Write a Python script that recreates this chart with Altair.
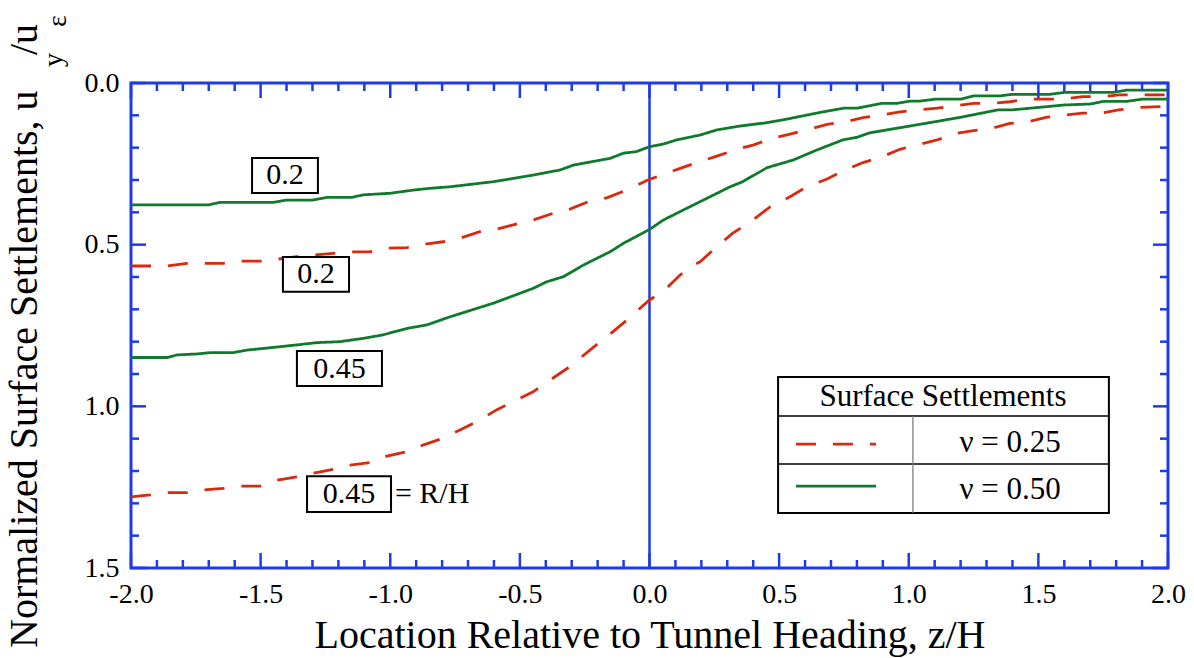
import altair as alt
import pandas as pd

RED = "#d9290f"
GREEN = "#107a2c"
BLUE = "#1f3be6"
FONT = "Liberation Serif"
W, H = 1037, 485

# ---- series (z/H , normalized settlement) ----
g02_x = [-2.0, -1.70, -1.657, -1.45, -1.40, -1.30, -1.245, -1.15, -1.105, -1.0, -0.91, -0.85, -0.77, -0.60,
         -0.45, -0.345, -0.294, -0.152, -0.10, -0.05, 0.0, 0.053, 0.105, 0.195, 0.26, 0.35, 0.45, 0.515,
         0.658, 0.748, 0.80, 0.896, 0.954, 1.005, 1.043, 1.10, 1.20, 1.25, 1.35, 1.40, 1.545, 1.60, 1.79,
         1.84, 2.0]
g02_y = [0.377, 0.377, 0.369, 0.369, 0.362, 0.362, 0.354, 0.354, 0.346, 0.341, 0.331, 0.326, 0.321, 0.305,
         0.285, 0.269, 0.254, 0.233, 0.217, 0.212, 0.197, 0.189, 0.176, 0.161, 0.145, 0.133, 0.123, 0.114,
         0.091, 0.078, 0.078, 0.063, 0.063, 0.056, 0.056, 0.05, 0.05, 0.04, 0.04, 0.035, 0.035, 0.029, 0.029,
         0.022, 0.022]

r02_x = [-2.0, -1.86, -1.784, -1.645, -1.58, -1.50, -1.437, -1.36, -1.30, -1.22, -1.155, -1.078, -1.013,
         -0.935, -0.874, -0.797, -0.731, -0.654, -0.59, -0.511, -0.449, -0.372, -0.307, -0.23, -0.165,
         -0.087, 0.0, 0.118, 0.195, 0.26, 0.337, 0.399, 0.476, 0.542, 0.607, 0.685, 0.754, 0.824, 0.897,
         0.966, 1.037, 1.11, 1.18, 1.25, 1.32, 1.39, 1.46, 1.60, 1.67, 1.745, 1.81, 2.0]
r02_y = [0.566, 0.566, 0.558, 0.558, 0.551, 0.551, 0.545, 0.537, 0.532, 0.527, 0.522, 0.522, 0.511,
         0.509, 0.499, 0.491, 0.48, 0.46, 0.452, 0.436, 0.424, 0.403, 0.39, 0.365, 0.355,
         0.331, 0.298, 0.264, 0.243, 0.226, 0.205, 0.192, 0.171, 0.158, 0.145, 0.128, 0.12, 0.107, 0.099,
         0.089, 0.083, 0.078, 0.07, 0.063, 0.063, 0.058, 0.05, 0.05, 0.042, 0.042, 0.037, 0.037]

g045_x = [-2.0, -1.86, -1.823, -1.745, -1.695, -1.607, -1.553, -1.49, -1.36, -1.283, -1.194, -1.105, -1.028,
          -0.935, -0.858, -0.769, -0.602, -0.448, -0.397, -0.332, -0.255, -0.152, -0.101, 0.0, 0.053, 0.13,
          0.208, 0.311, 0.36, 0.453, 0.555, 0.646, 0.746, 0.80, 0.85, 1.005, 1.10, 1.20, 1.345, 1.40, 1.495,
          1.60, 1.70, 1.75, 1.84, 1.90, 2.0]
g045_y = [0.849, 0.849, 0.841, 0.838, 0.834, 0.834, 0.826, 0.821, 0.81, 0.803, 0.80, 0.79, 0.779,
          0.759, 0.748, 0.723, 0.681, 0.635, 0.615, 0.599, 0.563, 0.522, 0.496, 0.453, 0.424, 0.393,
          0.362, 0.321, 0.305, 0.262, 0.238, 0.207, 0.176, 0.168, 0.154, 0.133, 0.12, 0.106, 0.083, 0.083, 0.076,
          0.068, 0.065, 0.057, 0.057, 0.05, 0.05]

r045_x = [-2.0, -1.927, -1.861, -1.784, -1.722, -1.645, -1.58, -1.502, -1.437, -1.36, -1.298, -1.221, -1.155,
          -1.078, -1.013, -0.935, -0.874, -0.797, -0.731, -0.654, -0.59, -0.511, -0.449, -0.384, -0.307, -0.23,
          -0.165, -0.087, 0.0, 0.053, 0.118, 0.157, 0.195, 0.26, 0.32, 0.399, 0.465, 0.542, 0.607, 0.685,
          0.754, 0.824, 0.897, 0.966, 1.005, 1.11, 1.18, 1.25, 1.32, 1.39, 1.46, 1.53, 1.67, 1.745, 1.81,
          1.885, 2.0]
r045_y = [1.28, 1.274, 1.267, 1.267, 1.259, 1.254, 1.247, 1.247, 1.228, 1.218, 1.207, 1.195, 1.182,
          1.174, 1.154, 1.14, 1.12, 1.099, 1.073, 1.042, 1.011, 0.98, 0.955, 0.919, 0.877, 0.826,
          0.785, 0.733, 0.671, 0.645, 0.594, 0.568, 0.553, 0.506, 0.465, 0.424, 0.383, 0.352, 0.321, 0.297,
          0.269, 0.246, 0.228, 0.205, 0.197, 0.176, 0.156, 0.147, 0.14, 0.125, 0.12, 0.106, 0.093, 0.093, 0.083,
          0.076, 0.072]

nu_levels = ["0.25", "0.50"]
series = [("g02", "0.50", g02_x, g02_y), ("r02", "0.25", r02_x, r02_y),
          ("g045", "0.50", g045_x, g045_y), ("r045", "0.25", r045_x, r045_y)]

rows = []
for name, nu, xs, ys in series:
    for a, b in zip(xs, ys):
        rows.append({"x": a, "y": b, "nu": nu, "series": name})
df = pd.DataFrame(rows)

# ---- ticks ----
x_major = [-2.0, -1.5, -1.0, -0.5, 0.0, 0.5, 1.0, 1.5, 2.0]
x_minor = [-1.9, -1.8, -1.7, -1.6, -1.4, -1.3, -1.2, -1.1, -0.9, -0.8, -0.7, -0.6, -0.4, -0.3, -0.2, -0.1,
           0.1, 0.2, 0.3, 0.4, 0.6, 0.7, 0.8, 0.9, 1.1, 1.2, 1.3, 1.4, 1.6, 1.7, 1.8, 1.9]
y_major = [0.0, 0.5, 1.0, 1.5]
y_minor = [0.1, 0.2, 0.3, 0.4, 0.6, 0.7, 0.8, 0.9, 1.1, 1.2, 1.3, 1.4]

xscale = alt.Scale(domain=[-2, 2], nice=False, zero=False)
yscale = alt.Scale(domain=[0, 1.5], reverse=True, nice=False, zero=False)

XAXIS = alt.Axis(
    values=x_major, labelFlush=False, labelPadding=12,
    labelExpr="datum.value < 0 ? '-' + format(-datum.value, '.1f') : format(datum.value, '.1f')",
    title="Location Relative to Tunnel Heading, z/H", titleY=79, titleBaseline="alphabetic")
YAXIS = alt.Axis(values=y_major, format=".1f", labelPadding=12, title=None)


def X(field):
    return alt.X(field, scale=xscale, axis=XAXIS, title="Location Relative to Tunnel Heading, z/H")


def Y(field):
    return alt.Y(field, scale=yscale, axis=YAXIS, title=None)


lines = alt.Chart(df).mark_line(strokeWidth=2.8, strokeCap="butt").encode(
    x=X("x:Q"), y=Y("y:Q"),
    color=alt.Color("nu:N", scale=alt.Scale(domain=nu_levels, range=[RED, GREEN]), legend=None),
    strokeDash=alt.StrokeDash("nu:N", scale=alt.Scale(domain=nu_levels, range=[[20, 17], [1, 0]]), legend=None),
    detail="series:N",
)


def xticks(vals, length, top):
    d = pd.DataFrame({"x": vals})
    y0, y1 = (0, length) if top else (H, H - length)
    return alt.Chart(d).mark_rule(color=BLUE, strokeWidth=2.5).encode(
        x=X("x:Q"), y=alt.value(y0), y2=alt.value(y1))


def yticks(vals, length, right):
    d = pd.DataFrame({"y": vals})
    x0, x1 = (W, W - length) if right else (0, length)
    return alt.Chart(d).mark_rule(color=BLUE, strokeWidth=2.5).encode(
        y=Y("y:Q"), x=alt.value(x0), x2=alt.value(x1))


tick_layers = [xticks(x_major, 15, False), xticks(x_minor, 8, False),
               xticks(x_major, 15, True), xticks(x_minor, 8, True),
               yticks(y_major, 15, False), yticks(y_minor, 8, False),
               yticks(y_major, 15, True), yticks(y_minor, 8, True)]

zero_line = alt.Chart(pd.DataFrame({"x": [0.0]})).mark_rule(color=BLUE, strokeWidth=2.5).encode(
    x=X("x:Q"), y=alt.value(0), y2=alt.value(H))

# ---- R/H annotation boxes ----
box_labels = ["0.2", "0.2", "0.45", "0.45"]
boxes = pd.DataFrame({
    "label": box_labels,
    "x": [-1.533, -1.414, -1.360, -1.321], "x2": [-1.279, -1.159, -1.032, -0.997],
    "y": [0.232, 0.538, 0.829, 1.216], "y2": [0.340, 0.646, 0.937, 1.327],
})
boxes["tx"] = (boxes["x"] + boxes["x2"]) / 2
boxes["ty"] = (boxes["y"] + boxes["y2"]) / 2

box_rects = alt.Chart(boxes).mark_rect(fill="white", stroke="black", strokeWidth=2).encode(
    x=X("x:Q"), x2="x2:Q", y=Y("y:Q"), y2="y2:Q")
box_text = alt.Chart(boxes).mark_text(font=FONT, fontSize=30, baseline="middle", align="center").encode(
    x=X("tx:Q"), y=Y("ty:Q"), text="label:N")
rh_text = alt.Chart(pd.DataFrame({"tx": [-0.982], "ty": [1.271], "s": ["= R/H"]})).mark_text(
    font=FONT, fontSize=30, baseline="middle", align="left").encode(
    x=X("tx:Q"), y=Y("ty:Q"), text="s:N")

# ---- legend table ----
leg_box = alt.Chart(pd.DataFrame({"x": [0.496], "x2": [1.772], "y": [0.909], "y2": [1.330]})).mark_rect(
    fill="white", stroke="black", strokeWidth=2).encode(
    x=X("x:Q"), x2="x2:Q", y=Y("y:Q"), y2="y2:Q")
leg_hlines = alt.Chart(pd.DataFrame({"y": [1.030, 1.178], "x": [0.496, 0.496], "x2": [1.772, 1.772]})).mark_rule(
    color="black", strokeWidth=1.5).encode(
    y=Y("y:Q"), x=X("x:Q"), x2="x2:Q")
leg_vline = alt.Chart(pd.DataFrame({"x": [1.016], "y": [1.030], "y2": [1.330]})).mark_rule(
    color="#777777", strokeWidth=1.2).encode(
    x=X("x:Q"), y=Y("y:Q"), y2="y2:Q")
leg_samples = alt.Chart(pd.DataFrame({"nu": nu_levels, "y": [1.117, 1.247],
                                      "x": [0.565, 0.565], "x2": [0.874, 0.874]})).mark_rule(
    strokeWidth=2.8, strokeCap="butt").encode(
    y=Y("y:Q"), x=X("x:Q"), x2="x2:Q",
    color=alt.Color("nu:N", scale=alt.Scale(domain=nu_levels, range=[RED, GREEN]), legend=None),
    strokeDash=alt.StrokeDash("nu:N", scale=alt.Scale(domain=nu_levels, range=[[20, 17], [1, 0]]), legend=None))
leg_texts = alt.Chart(pd.DataFrame({
    "s": ["Surface Settlements", "\u03bd = 0.25", "\u03bd = 0.50"],
    "tx": [1.132, 1.391, 1.391], "ty": [0.971, 1.114, 1.259]})).mark_text(
    font=FONT, fontSize=31, baseline="middle", align="center").encode(
    x=X("tx:Q"), y=Y("ty:Q"), text="s:N")


# ---- y-axis title with subscripts ----
def ytitle(s, x, y, size):
    return alt.Chart(pd.DataFrame({"s": [s]})).mark_text(
        font=FONT, fontSize=size, angle=270, align="left", baseline="alphabetic").encode(
        x=alt.value(x), y=alt.value(y), text="s:N")


ytitle_layers = [ytitle("Normalized Surface Settlements, u", -94, 565, 40),
                 ytitle("y", -69, -16, 28),
                 ytitle("/u", -94, -28, 40),
                 ytitle("\u03b5", -65, -56, 28)]

chart = alt.layer(
    zero_line, lines, box_rects, box_text, rh_text,
    leg_box, leg_hlines, leg_vline, leg_samples, leg_texts,
    *tick_layers, *ytitle_layers,
).properties(
    width=W, height=H,
    autosize=alt.AutoSizeParams(type="none"),
    padding={"left": 131, "top": 83, "right": 26, "bottom": 90},
    background="white",
).configure_view(
    stroke=BLUE, strokeWidth=3,
).configure_axis(
    labelFont=FONT, titleFont=FONT, labelColor="black", titleColor="black",
    labelFontSize=28, titleFontSize=40, titleFontWeight="normal",
    domain=False, ticks=False, tickSize=0, grid=False,
)

chart.save("out.html", embed_options={"renderer": "svg", "actions": False})
